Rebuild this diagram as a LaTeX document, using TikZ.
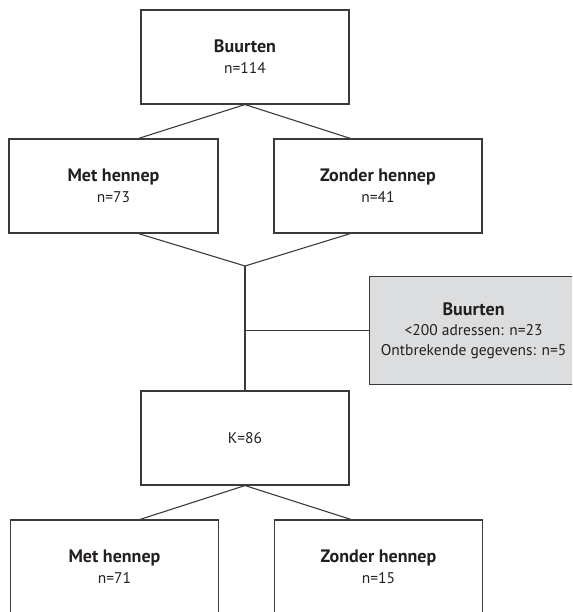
\documentclass[tikz,border=0pt]{standalone}
\usepackage{fontspec}
\setmainfont{PT Sans}
\usetikzlibrary{calc}
\definecolor{linecol}{HTML}{3A3A3A}
\definecolor{txtcol}{HTML}{231F20}
\definecolor{greyfill}{HTML}{DCDDDE}
\newcommand{\hd}[1]{{\fontsize{18}{21}\selectfont\bfseries #1}}
\tikzset{
  box/.style={draw=linecol, line width=1.1pt, rectangle, minimum width=208pt, minimum height=94pt, inner sep=0pt, align=center, text=txtcol, font=\fontsize{15.5}{21}\selectfont},
  greybox/.style={box, fill=greyfill, minimum height=108pt, font=\fontsize{15.5}{20}\selectfont},
  conn/.style={draw=linecol, line width=1.1pt}
}
\begin{document}
\begin{tikzpicture}[x=1pt,y=-1pt]
\useasboundingbox (0,0) rectangle (572,612);
\clip (0,0) rectangle (572,612);
\node[box] (top) at (245,57) {\hd{Buurten}\\n=114};
\node[box, minimum width=209pt] (ml) at (113.5,186) {\hd{Met hennep}\\n=73};
\node[box] (mr) at (378,186) {\hd{Zonder hennep}\\n=41};
\node[greybox, anchor=north west] (grey) at (369,276) {\hd{Buurten}\\<200 adressen: n=23\\Ontbrekende gegevens: n=5};
\node[box] (k) at (245,438) {K=86};
\node[box] (bl) at (114.5,567) {\hd{Met hennep}\\n=71};
\node[box] (br) at (378.5,567) {\hd{Zonder hennep}\\n=15};
\coordinate (j) at (245,266);
\draw[conn] ([xshift=130pt]ml.north west) -- (top.south) -- ([xshift=77pt]mr.north west);
\draw[conn] ([xshift=130pt]ml.south west) -- (j) -- ([xshift=77pt]mr.south west);
\draw[conn] (j) -- (k.north);
\draw[conn] (j |- grey.west) -- (grey.west);
\draw[conn] ([xshift=130pt]bl.north west) -- (k.south) -- ([xshift=77pt]br.north west);
\end{tikzpicture}
\end{document}
